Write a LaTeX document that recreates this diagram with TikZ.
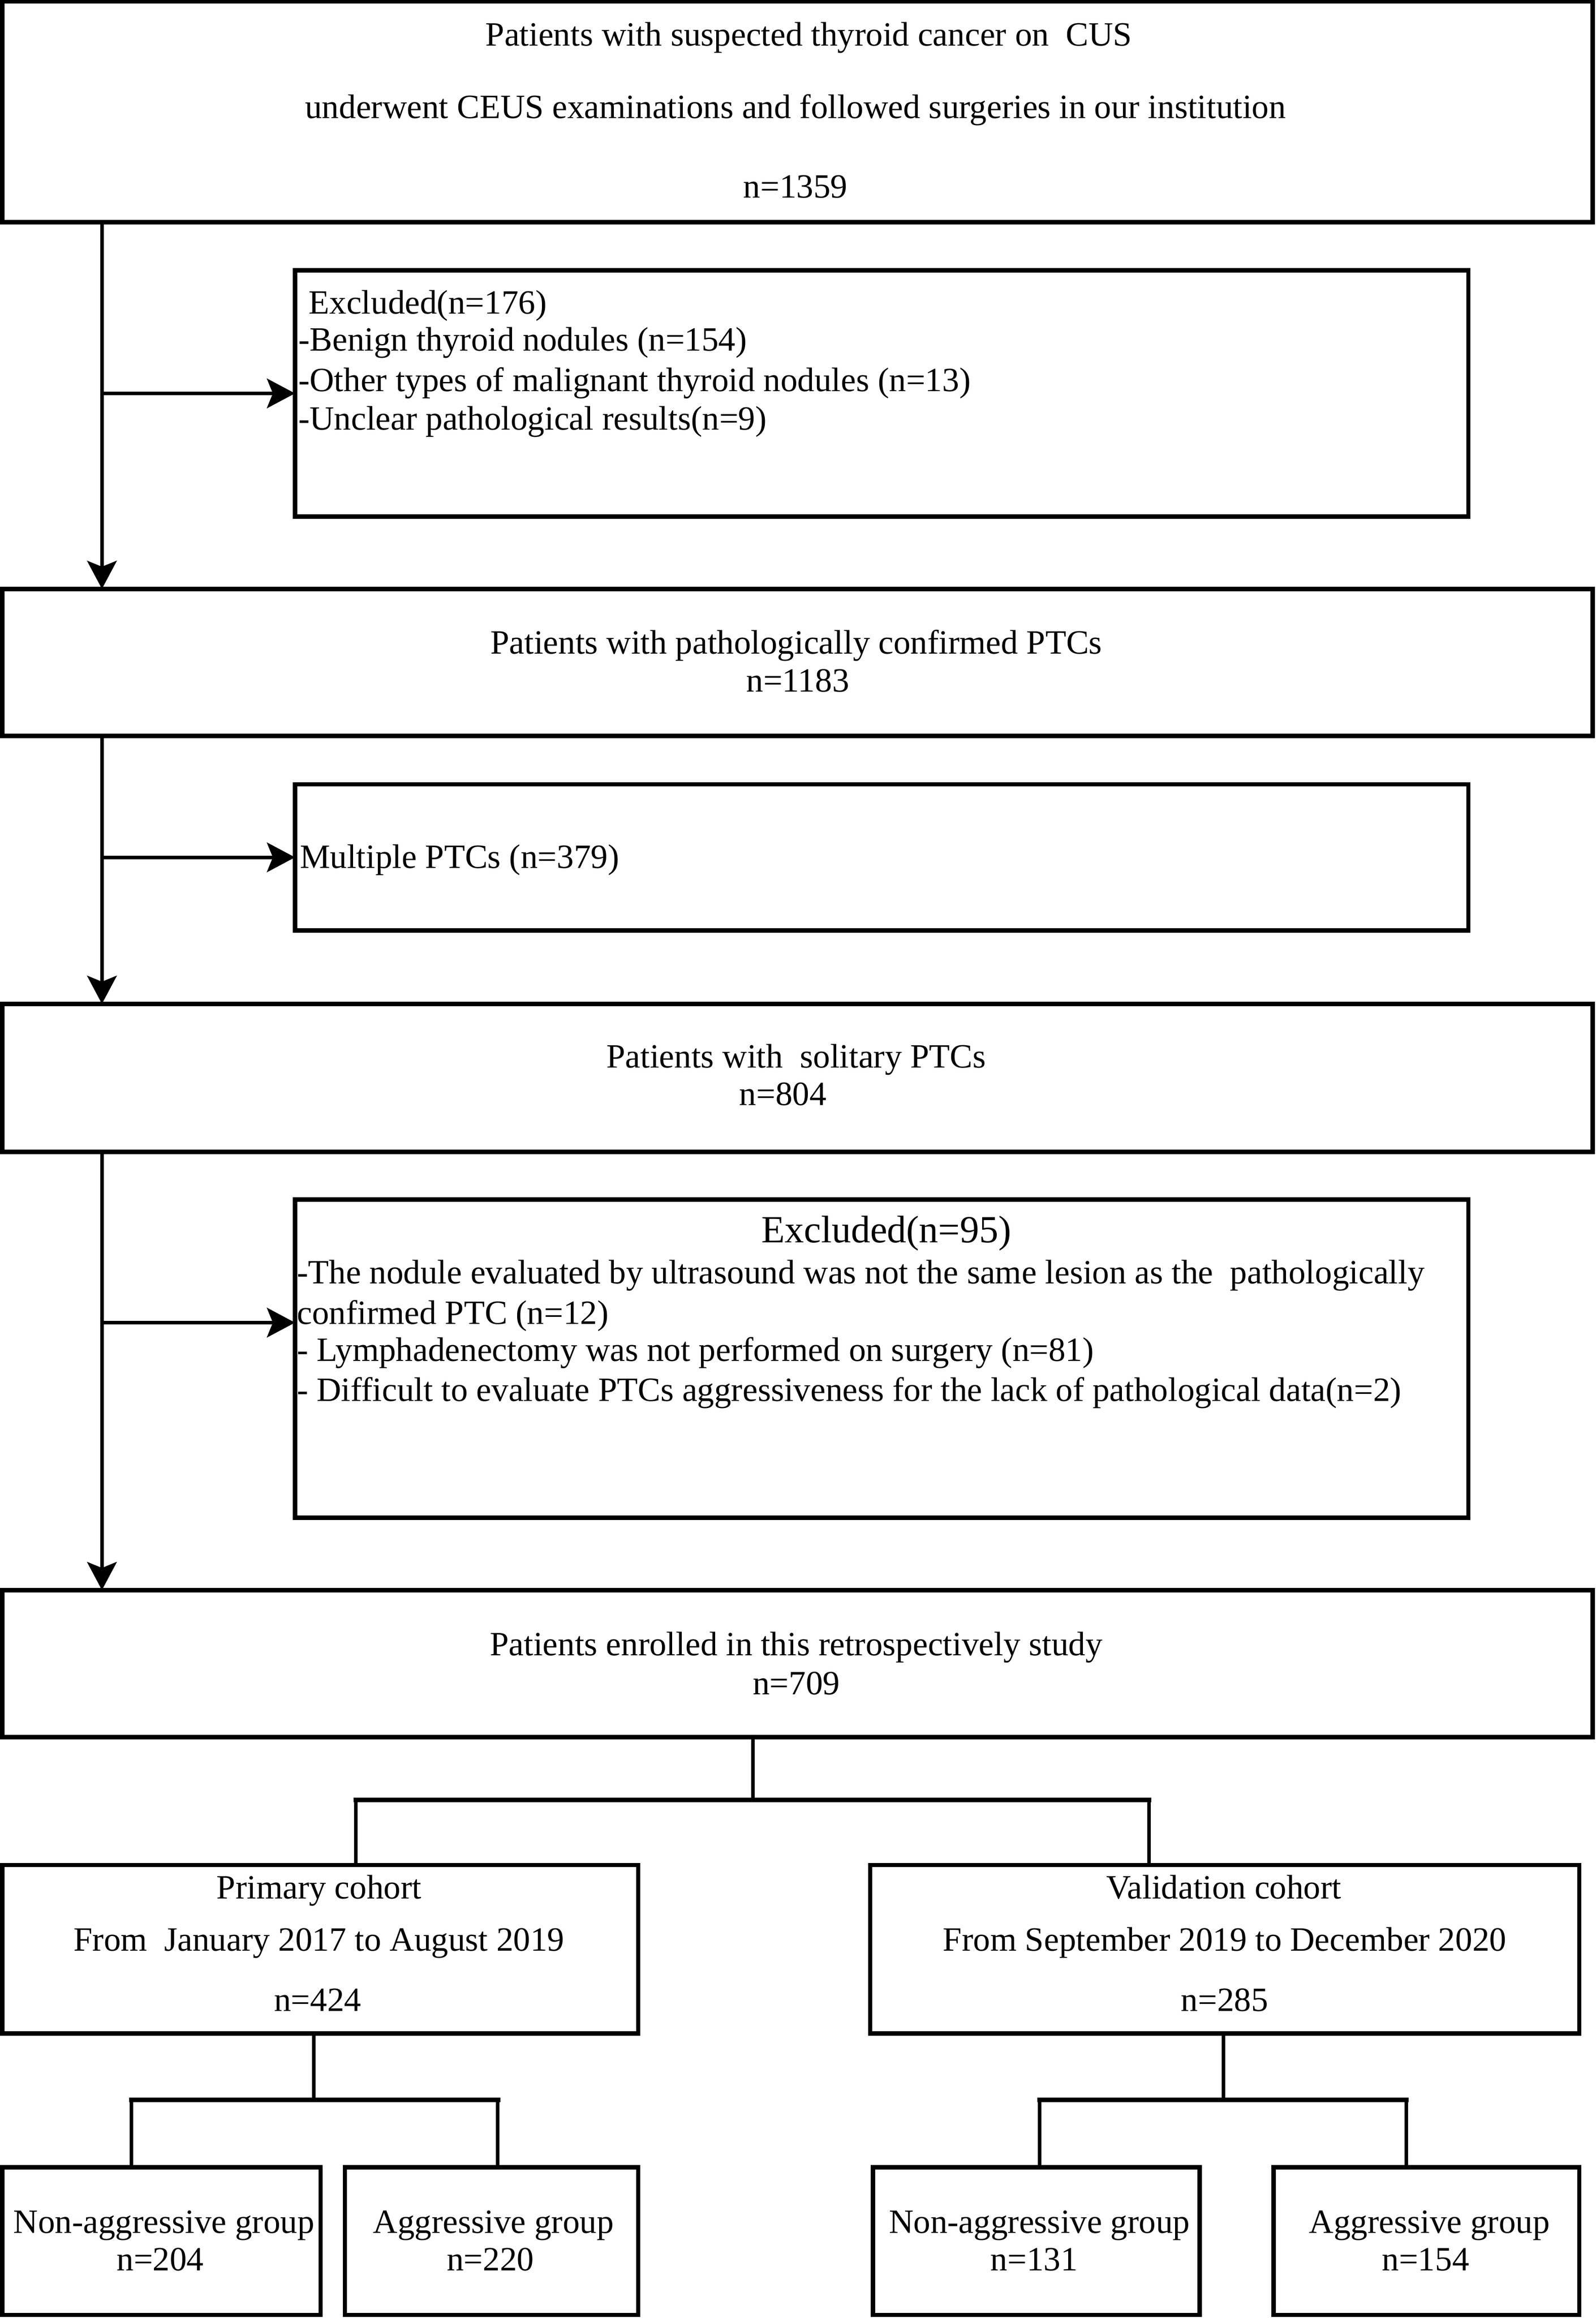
\documentclass[tikz,border=0pt]{standalone}
\usepackage{fontspec}
\setmainfont{Liberation Serif}
\usetikzlibrary{arrows.meta,fit}
\tikzset{
  box/.style={draw, line width=3pt, inner sep=0pt, outer sep=0pt},
  conn/.style={line width=2.4pt},
  arr/.style={conn, -{Stealth[length=19pt,width=20pt,inset=4pt]}},
  bar/.style={line width=3.2pt, line cap=rect},
  txt/.style={inner sep=0pt, outer sep=0pt, anchor=base, font=\fontsize{23}{26}\selectfont},
  ltxt/.style={txt, anchor=base west},
  gtxt/.style={txt, font=\fontsize{23}{26}\selectfont},
  htxt/.style={txt, font=\fontsize{26}{29}\selectfont}
}
\newcommand\mybox[5]{\node[box, fit={(#2,#3) (#4,#5)}] (#1) {};}
\begin{document}
\begin{tikzpicture}[x=1pt,y=-1pt]
\useasboundingbox (0,0) rectangle (1080,1568.57);
% boxes
\mybox{b1}{1.5}{1}{1078}{150.3}
\mybox{e1}{199.7}{182.9}{993.9}{349.5}
\mybox{b2}{1.5}{398.5}{1078}{498}
\mybox{e2}{199.7}{530.7}{993.9}{629.6}
\mybox{b3}{1.5}{679.3}{1078}{779.4}
\mybox{e3}{199.7}{811.6}{993.9}{1027}
\mybox{b4}{1.5}{1076}{1078}{1175.5}
\mybox{pc}{1.5}{1262}{432}{1376}
\mybox{vc}{589}{1262}{1069}{1376}
\mybox{g1}{1.5}{1466.6}{217}{1566.5}
\mybox{g2}{233.5}{1466.6}{432}{1566.5}
\mybox{g3}{591}{1466.6}{812}{1566.5}
\mybox{g4}{862}{1466.6}{1069}{1566.5}
% texts
\node[txt] (t1a) at (547.5,31) {Patients with suspected thyroid cancer on\ \ CUS};
\node[txt] (t1b) at (538.5,80) {underwent CEUS examinations and followed surgeries in our institution};
\node[txt] (t1c) at (538.5,134) {n=1359};
\node[ltxt] (x1a) at (209,212.5) {Excluded(n=176)};
\node[ltxt] (x1b) at (202,237.5) {-Benign thyroid nodules (n=154)};
\node[ltxt] (x1c) at (202,265) {-Other types of malignant thyroid nodules (n=13)};
\node[ltxt] (x1d) at (202,291) {-Unclear pathological results(n=9)};
\node[txt] (t2a) at (539,442.5) {Patients with pathologically confirmed PTCs};
\node[txt] (t2b) at (540,468) {n=1183};
\node[ltxt] (x2a) at (203,587.5) {Multiple PTCs (n=379)};
\node[txt] (t3a) at (539,722.5) {Patients with\ \ solitary PTCs};
\node[txt] (t3b) at (530,748) {n=804};
\node[htxt] (x3h) at (600,841) {Excluded(n=95)};
\node[ltxt] (x3a) at (201,868.6) {-The nodule evaluated by ultrasound was not the same lesion as the\ \ pathologically};
\node[ltxt] (x3b) at (201,896) {confirmed PTC (n=12)};
\node[ltxt] (x3c) at (201,921) {- Lymphadenectomy was not performed on surgery (n=81)};
\node[ltxt] (x3d) at (201,948) {- Difficult to evaluate PTCs aggressiveness for the lack of pathological data(n=2)};
\node[txt] (t4a) at (539,1120.4) {Patients enrolled in this retrospectively study};
\node[txt] (t4b) at (539,1146.6) {n=709};
\node[txt] (p1) at (216,1285) {Primary cohort};
\node[txt] (p2) at (216,1320) {From\ \ January 2017 to August 2019};
\node[txt] (p3) at (215,1361) {n=424};
\node[txt] (v1) at (828.5,1285) {Validation cohort};
\node[txt] (v2) at (829,1320) {From September 2019 to December 2020};
\node[txt] (v3) at (829,1361) {n=285};
\node[gtxt] (g1a) at (111,1511) {Non-aggressive group};
\node[gtxt] (g1b) at (108.5,1536.4) {n=204};
\node[gtxt] (g2a) at (334,1511) {Aggressive group};
\node[gtxt] (g2b) at (332,1536.4) {n=220};
\node[gtxt] (g3a) at (703.6,1511) {Non-aggressive group};
\node[gtxt] (g3b) at (700,1536.4) {n=131};
\node[gtxt] (g4a) at (967.6,1511) {Aggressive group};
\node[gtxt] (g4b) at (965,1536.4) {n=154};
% spine
\coordinate (sp) at (69,0);
\coordinate (a3) at (69,895);
\draw[arr] (b1.south -| sp) -- (b2.north -| sp);
\draw[arr] (b2.south -| sp) -- (b3.north -| sp);
\draw[arr] (b3.south -| sp) -- (b4.north -| sp);
\draw[arr] (sp |- e1.west) -- (e1.west);
\draw[arr] (sp |- e2.west) -- (e2.west);
\draw[arr] (a3) -- (a3 -| e3.west);
% tree
\coordinate (t0) at (509.5,1218);
\coordinate (tl) at (241,1218);
\coordinate (tr) at (777.6,1218);
\draw[conn] (b4.south -| t0) -- (t0);
\draw[bar] (tl) -- (tr);
\draw[conn] (tl) -- (pc.north -| tl);
\draw[conn] (tr) -- (vc.north -| tr);
\coordinate (s0) at (212.5,1421);
\coordinate (sl) at (89,1421);
\coordinate (sr) at (337,1421);
\draw[conn] (pc.south -| s0) -- (s0);
\draw[bar] (sl) -- (sr);
\draw[conn] (sl) -- (g1.north -| sl);
\draw[conn] (sr) -- (g2.north -| sr);
\coordinate (u0) at (828,1421);
\coordinate (ul) at (703.6,1421);
\coordinate (ur) at (952,1421);
\draw[conn] (vc.south -| u0) -- (u0);
\draw[bar] (ul) -- (ur);
\draw[conn] (ul) -- (g3.north -| ul);
\draw[conn] (ur) -- (g4.north -| ur);
\end{tikzpicture}
\end{document}
